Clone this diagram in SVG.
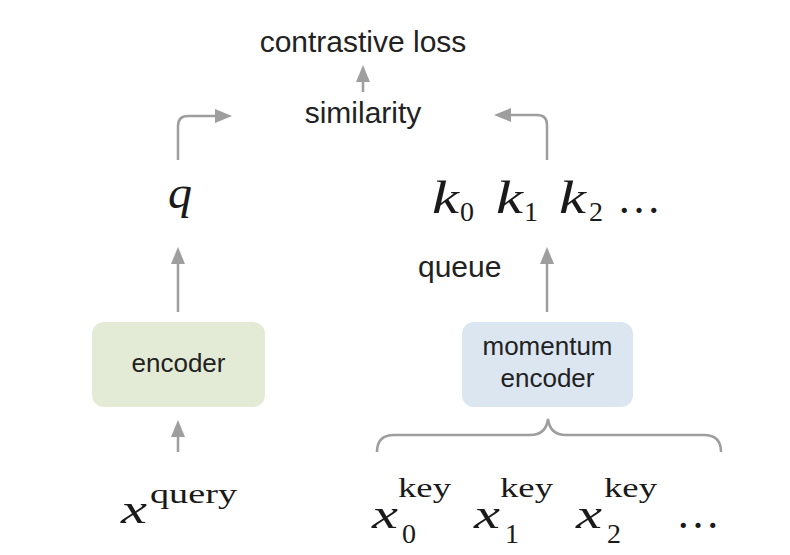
<svg xmlns="http://www.w3.org/2000/svg" width="790" height="555" viewBox="0 0 790 555">
<style>
.lbl{font-family:"Liberation Sans",Arial,sans-serif;fill:#222;}
.big{font-size:30px;}
.box{font-size:26px;text-anchor:middle;}
.mi{font-family:"Liberation Serif","Times New Roman",serif;font-style:italic;font-size:46px;fill:#1a1a1a;}
.mx{font-size:42px;}
.mr{font-family:"Liberation Serif","Times New Roman",serif;font-size:28px;fill:#1a1a1a;}
.dots{font-size:44px;}
.conn{fill:none;stroke:#9e9e9e;stroke-width:2.5;}
</style>
<defs>
<marker id="ah" markerUnits="userSpaceOnUse" markerWidth="17" markerHeight="14" refX="2" refY="7" orient="auto">
<path d="M0,0 L17,7 L0,14 z" fill="#9e9e9e"/>
</marker>
</defs>
<rect width="790" height="555" fill="#ffffff"/>

<g id="connectors">
<path class="conn" d="M363,92 V80" marker-end="url(#ah)"/>
<path class="conn" d="M178,160 V126 Q178,116 188,116 H217" marker-end="url(#ah)"/>
<path class="conn" d="M547,160 V125 Q547,115 537,115 H509" marker-end="url(#ah)"/>
<path class="conn" d="M178,312 V262" marker-end="url(#ah)"/>
<path class="conn" d="M547,312 V262" marker-end="url(#ah)"/>
<path class="conn" d="M178,452 V435" marker-end="url(#ah)"/>
<path class="conn" stroke-width="2" d="M377,452 Q377,435 394,435 L530,435 Q546,435 548,419 Q550,435 566,435 L704,435 Q721,435 721,452"/>
</g>

<g id="contrastive-loss"><text class="lbl big" x="363" y="52" text-anchor="middle">contrastive loss</text></g>
<g id="similarity"><text class="lbl big" x="363" y="123" text-anchor="middle">similarity</text></g>
<g id="queue-label"><text class="lbl big" x="418" y="277">queue</text></g>

<g id="encoder">
<rect x="92" y="322" width="173" height="85" rx="12" fill="#e3ebd6"/>
<text class="lbl box" x="178.5" y="372">encoder</text>
</g>
<g id="momentum-encoder">
<rect x="462" y="322" width="171" height="85" rx="12" fill="#dbe6f1"/>
<text class="lbl box" x="547.5" y="355">momentum</text>
<text class="lbl box" x="547.5" y="387">encoder</text>
</g>

<g id="q"><text class="mi" x="168" y="208" textLength="24" lengthAdjust="spacingAndGlyphs">q</text></g>

<g id="keys">
<text class="mi" x="432" y="213" textLength="27" lengthAdjust="spacingAndGlyphs">k</text><text class="mr" x="460" y="221">0</text>
<text class="mi" x="496" y="213" textLength="27" lengthAdjust="spacingAndGlyphs">k</text><text class="mr" x="524" y="221">1</text>
<text class="mi" x="559" y="213" textLength="27" lengthAdjust="spacingAndGlyphs">k</text><text class="mr" x="589" y="221">2</text>
<text class="mr dots" x="617" y="213">…</text>
</g>

<g id="x-query">
<text class="mi mx" x="121" y="523" textLength="26" lengthAdjust="spacingAndGlyphs">x</text>
<text class="mr" x="150" y="503" font-size="31" textLength="87" lengthAdjust="spacingAndGlyphs">query</text>
</g>

<g id="x-keys">
<text class="mi mx" x="372" y="528" textLength="26" lengthAdjust="spacingAndGlyphs">x</text>
<text class="mr" x="402" y="543">0</text>
<text class="mr" x="398" y="497" font-size="30" textLength="53" lengthAdjust="spacingAndGlyphs">key</text>
<text class="mi mx" x="474" y="528" textLength="26" lengthAdjust="spacingAndGlyphs">x</text>
<text class="mr" x="505" y="543">1</text>
<text class="mr" x="500" y="497" font-size="30" textLength="53" lengthAdjust="spacingAndGlyphs">key</text>
<text class="mi mx" x="576" y="528" textLength="26" lengthAdjust="spacingAndGlyphs">x</text>
<text class="mr" x="607" y="543">2</text>
<text class="mr" x="604" y="497" font-size="30" textLength="53" lengthAdjust="spacingAndGlyphs">key</text>
<text class="mr dots" x="676" y="528">…</text>
</g>
</svg>
